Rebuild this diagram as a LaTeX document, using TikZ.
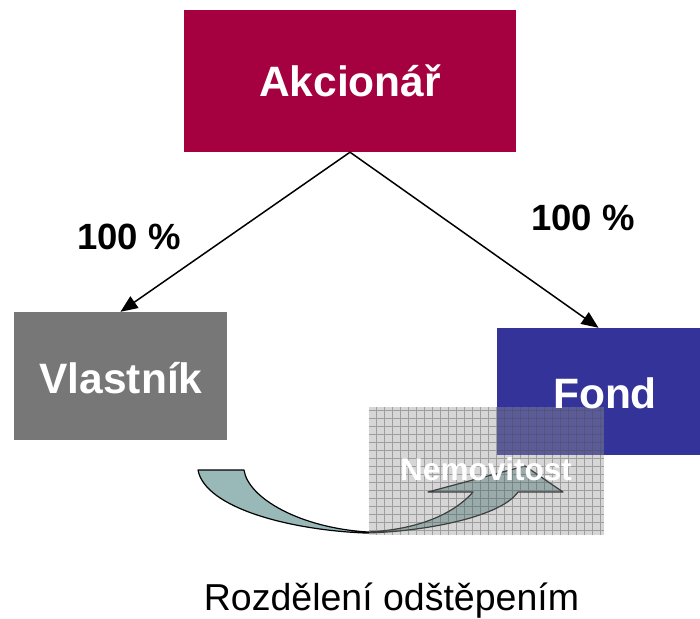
\documentclass[tikz,border=0pt]{standalone}
\usepackage{fontspec}
\setmainfont{Liberation Sans}
\usetikzlibrary{arrows.meta}
\definecolor{akred}{HTML}{A50040}
\definecolor{vlgray}{HTML}{777777}
\definecolor{fdblue}{HTML}{333399}
\definecolor{arrteal}{HTML}{99B8B8}
\tikzset{
  boxnode/.style={draw=none, inner sep=0pt, text=white, font=\fontsize{42.5}{50}\selectfont\bfseries},
  boxtext/.style={text=white, font=\fontsize{42.5}{50}\selectfont\bfseries},
  pct/.style={font=\fontsize{36.5}{44}\selectfont\bfseries},
  conn/.style={line width=1.5pt, -{Triangle[length=17pt,width=14pt]}},
}
\begin{document}
\begin{tikzpicture}[x=1pt,y=1pt]
\useasboundingbox (0,0) rectangle (700,618);
% boxes
\node[boxnode, fill=akred, minimum width=332pt, minimum height=142pt] (ak) at (350,537) {Akcionář};
\node[boxnode, fill=vlgray, minimum width=213pt, minimum height=128pt] (vl) at (120.5,242) {};
\node[boxtext] (vlt) at (121,240) {Vlastník};
\node[boxnode, fill=fdblue, minimum width=203pt, minimum height=127pt] (fd) at (598.5,226.5) {};
% connectors
\draw[conn] (ak.south) -- (vl.north);
\draw[conn] (ak.south) -- (fd.north);
\node[pct] (p1) at (129,381) {100 \%};
\node[pct] (p2) at (583,400) {100 \%};
% curved arrow
\draw[fill=arrteal, line width=1.2pt, line join=round]
  (198,148) .. controls (205,110) and (290,88) .. (365,85)
  .. controls (420,86) and (500,100) .. (518,126)
  -- (563,126) -- (525,152) -- (428,126) -- (473,126)
  .. controls (450,100) and (410,88) .. (368,86)
  .. controls (300,90) and (248,120) .. (244,148) -- cycle;
% hatched box
\node[draw=none, fill=gray!80, fill opacity=0.4, minimum width=235pt, minimum height=128pt] (nm) at (486.5,147) {};
\begin{scope}
\clip (nm.south west) rectangle (nm.north east);
\draw[gray!60!black, opacity=0.4, line width=0.8pt, step=8pt] (nm.south west) grid (nm.north east);
\end{scope}
\node[text=white, font=\fontsize{31.5}{36}\selectfont\bfseries] (nmt) at (486,149) {Nemovitost};
\node[boxtext] (fdt) at (605,225) {Fond};
\node[font=\fontsize{37.5}{44}\selectfont, anchor=base] (cap) at (391.5,8) {Rozdělení odštěpením};
\end{tikzpicture}
\end{document}
